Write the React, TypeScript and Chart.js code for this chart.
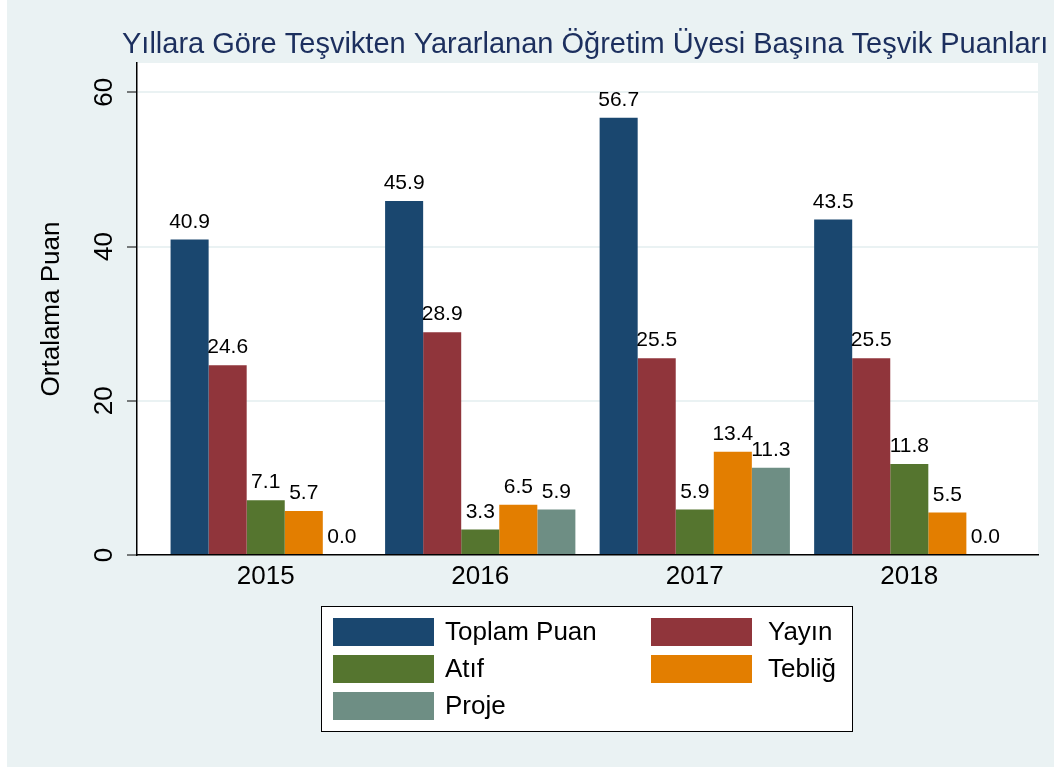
import React, { useEffect, useRef } from "react";
import { Chart, registerables } from "chart.js";

Chart.register(...registerables);

const years = ["2015", "2016", "2017", "2018"];
const seriesNames = ["Toplam Puan", "Yayın", "Atıf", "Tebliğ", "Proje"];
const toplam = [40.9, 45.9, 56.7, 43.5];
const yayin = [24.6, 28.9, 25.5, 25.5];
const atif = [7.1, 3.3, 5.9, 11.8];
const teblig = [5.7, 6.5, 13.4, 5.5];
const proje = [0.0, 5.9, 11.3, 0.0];
const seriesColors = ["#1A476F", "#90353B", "#55752F", "#E37E00", "#6E8E84"];
const yTicks = [0, 20, 40, 60];
const titleText = "Yıllara Göre Teşvikten Yararlanan Öğretim Üyesi Başına Teşvik Puanları";
const yTitle = "Ortalama Puan";

const FONT = "'Liberation Sans', Arial, Helvetica, sans-serif";
const W = 1047;
const H = 767;

const bgPlugin = {
  id: "bgPlugin",
  beforeDraw(chart: any) {
    const { ctx, chartArea } = chart;
    ctx.save();
    ctx.fillStyle = "#EAF2F3";
    ctx.fillRect(0, 0, chart.width, chart.height);
    ctx.fillStyle = "#FFFFFF";
    ctx.fillRect(chartArea.left, chartArea.top, chartArea.right - chartArea.left, chartArea.bottom - chartArea.top);
    ctx.restore();
  },
};

const labelPlugin = {
  id: "labelPlugin",
  afterDatasetsDraw(chart: any) {
    const { ctx } = chart;
    ctx.save();
    ctx.font = `21px ${FONT}`;
    ctx.fillStyle = "#000000";
    ctx.textAlign = "center";
    ctx.textBaseline = "alphabetic";
    chart.data.datasets.forEach((ds: any, di: number) => {
      const meta = chart.getDatasetMeta(di);
      meta.data.forEach((bar: any, i: number) => {
        const v = ds.data[i].y;
        ctx.fillText(Number(v).toFixed(1), bar.x, bar.y - 12);
      });
    });
    ctx.restore();
  },
};

const titleLegendPlugin = {
  id: "titleLegendPlugin",
  afterDraw(chart: any) {
    const { ctx } = chart;
    ctx.save();
    // title
    ctx.font = `29px ${FONT}`;
    ctx.fillStyle = "#1C2F5E";
    ctx.textAlign = "left";
    ctx.textBaseline = "alphabetic";
    ctx.fillText(titleText, 115, 53);
    // legend box
    const bx = 314, by = 606, bw = 531, bh = 125;
    ctx.fillStyle = "#FFFFFF";
    ctx.fillRect(bx, by, bw, bh);
    ctx.strokeStyle = "#000000";
    ctx.lineWidth = 1;
    ctx.strokeRect(bx + 0.5, by + 0.5, bw, bh);
    const colSwatch = [326, 644];
    const colText = [438, 761];
    const rowCenter = [632, 669, 706];
    ctx.font = `26px ${FONT}`;
    ctx.textBaseline = "middle";
    chart.data.datasets.forEach((ds: any, i: number) => {
      const c = i % 2;
      const r = Math.floor(i / 2);
      ctx.fillStyle = ds.backgroundColor;
      ctx.fillRect(colSwatch[c], rowCenter[r] - 14, 101, 28);
      ctx.fillStyle = "#000000";
      ctx.fillText(ds.label, colText[c], rowCenter[r] + 1);
    });
    ctx.restore();
  },
};

export default function App() {
  const ref = useRef<HTMLCanvasElement | null>(null);
  useEffect(() => {
    if (!ref.current) return;
    const allSeries = [toplam, yayin, atif, teblig, proje];
    const chart = new Chart(ref.current, {
      type: "bar",
      data: {
        datasets: allSeries.map((vals, si) => ({
          label: seriesNames[si],
          data: vals.map((v, i) => ({ x: i, y: v })),
          backgroundColor: seriesColors[si],
          borderWidth: 0,
          barPercentage: 1,
          categoryPercentage: 0.887,
        })),
      },
      options: {
        responsive: false,
        animation: false,
        layout: { padding: { left: 0, top: 63, right: 16, bottom: 0 } },
        plugins: {
          legend: { display: false },
          title: { display: false },
          tooltip: { enabled: false },
        },
        scales: {
          x: {
            type: "linear",
            min: -0.6,
            max: 3.6,
            offset: false,
            afterFit(scale: any) {
              scale.height = 212;
            },
            grid: { display: false, drawTicks: false },
            border: { display: true, color: "#000000", width: 1.5 },
            ticks: {
              stepSize: 1,
              includeBounds: false,
              padding: 6,
              maxRotation: 0,
              autoSkip: false,
              color: "#000000",
              font: { family: FONT, size: 26 },
              callback: (v: any) => (Number.isInteger(v) ? years[v] ?? "" : ""),
            },
          },
          y: {
            type: "linear",
            min: 0,
            max: 63.8,
            afterFit(scale: any) {
              scale.width = 130;
            },
            afterBuildTicks(scale: any) {
              scale.ticks = yTicks.map((v) => ({ value: v }));
            },
            grid: {
              color: "#EAF2F3",
              lineWidth: 2,
              drawTicks: true,
              tickLength: 10,
              tickColor: "#000000",
              tickWidth: 1,
            },
            border: { display: true, color: "#000000", width: 1.5 },
            ticks: {
              stepSize: 20,
              includeBounds: false,
              minRotation: 90,
              maxRotation: 90,
              crossAlign: "center",
              padding: 7.5,
              color: "#000000",
              font: { family: FONT, size: 26 },
            },
            title: {
              display: true,
              text: yTitle,
              color: "#000000",
              font: { family: FONT, size: 26 },
              padding: { top: 29, bottom: 0 },
            },
          },
        },
      },
      plugins: [bgPlugin, labelPlugin, titleLegendPlugin],
    } as any);
    return () => chart.destroy();
  }, []);
  return (
    <div style={{ position: "fixed", left: 7, top: 0, width: W, height: H, background: "#EAF2F3" }}>
      <canvas ref={ref} width={W} height={H} style={{ display: "block", width: W, height: H }} />
    </div>
  );
}
